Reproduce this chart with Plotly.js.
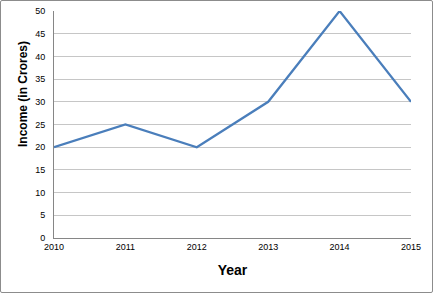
<!DOCTYPE html>
<html>
<head>
<meta charset="utf-8">
<script src="https://cdn.plot.ly/plotly-3.0.1.min.js"></script>
<style>
html,body{margin:0;padding:0;background:#fff;}
#wrap{position:absolute;left:0;top:0;width:431px;height:291px;border:1px solid #8c8c8c;border-radius:2px;}
#chart{position:absolute;left:-1px;top:-1px;width:433px;height:293px;}
</style>
</head>
<body>
<div id="wrap"><div id="chart"></div></div>
<script>
const years = [2010, 2011, 2012, 2013, 2014, 2015];
const income = [20, 25, 20, 30, 50, 30];
const yTicks = [0, 5, 10, 15, 20, 25, 30, 35, 40, 45, 50];

const tickFont = {family: 'Liberation Sans, Arial, sans-serif', size: 9, color: '#000'};
const titleFont = {family: 'Liberation Sans, Arial, sans-serif', size: 14, color: '#000', weight: 'bold'};
const yTitleFont = {family: 'Liberation Sans, Arial, sans-serif', size: 12, color: '#000', weight: 'bold'};

Plotly.newPlot('chart', [{
  x: years,
  y: income,
  type: 'scatter',
  mode: 'lines',
  line: {color: '#4A7EBB', width: 2.25},
  hoverinfo: 'none'
}], {
  width: 433,
  height: 293,
  margin: {l: 54, r: 22, t: 11, b: 55},
  paper_bgcolor: 'rgba(0,0,0,0)',
  plot_bgcolor: '#fff',
  showlegend: false,
  xaxis: {
    range: [2010, 2015],
    tickvals: years,
    ticktext: years.map(String),
    showgrid: false,
    zeroline: false,
    showline: true,
    linecolor: '#868686',
    linewidth: 1,
    ticks: '',
    ticklen: 0,
    tickfont: tickFont,
    title: {text: 'Year', font: titleFont, standoff: 14}
  },
  yaxis: {
    range: [0, 50],
    tickvals: yTicks,
    showgrid: true,
    gridcolor: '#c6c6c6',
    gridwidth: 1,
    zeroline: false,
    showline: true,
    linecolor: '#868686',
    linewidth: 1,
    ticks: '',
    tickfont: tickFont,
    ticklabelstandoff: 6
  },
  annotations: [{
    text: 'Income (in Crores)',
    font: yTitleFont,
    textangle: -90,
    xref: 'paper', yref: 'paper',
    x: -0.087, y: 0.634,
    xanchor: 'center', yanchor: 'middle',
    showarrow: false
  }]
}, {staticPlot: true, displayModeBar: false});
</script>
</body>
</html>
